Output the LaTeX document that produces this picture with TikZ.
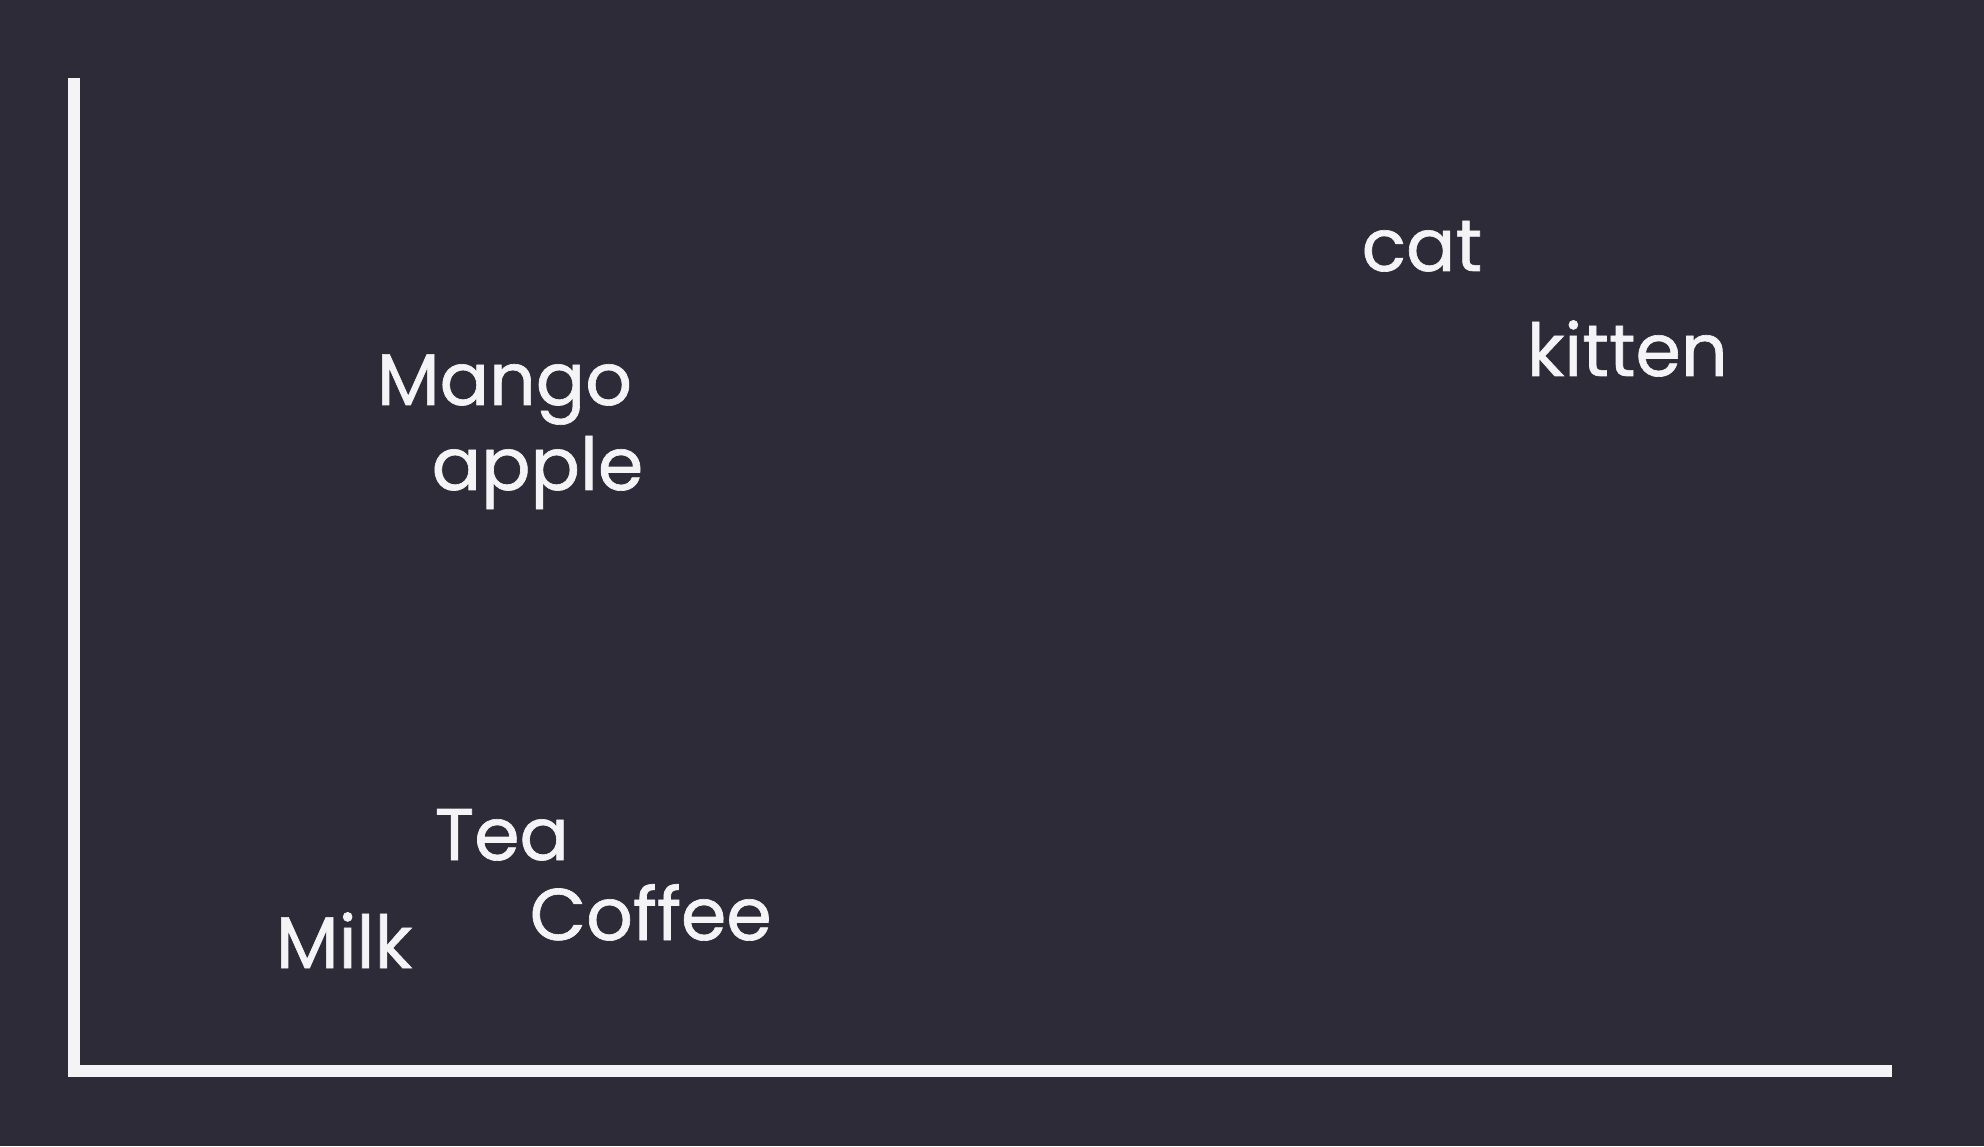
\documentclass[tikz,border=0pt]{standalone}
\usepackage{fontspec}
\setmainfont{Poppins}
\newfontfamily\wordfont{Poppins}[FakeBold=0.9]
\usepackage{tikz}
\usetikzlibrary{positioning}
\definecolor{cBg}{HTML}{2C2B37}
\definecolor{cInk}{HTML}{F4F4F7}
\tikzset{
  axis/.style = {draw=cInk, line width=3.4pt, line join=miter},
  word/.style = {text=cInk, font=\wordfont\fontsize{20.8}{24}\selectfont, inner sep=0pt, anchor=base west},
}

\begin{document}
\begin{tikzpicture}
  \fill[cBg] (0,0) rectangle (19.84,11.46);
  \useasboundingbox (0,0) rectangle (19.84,11.46);

  \coordinate (ytop)   at (0.74,10.68);
  \coordinate (origin) at (0.74,0.75);
  \coordinate (xend)   at (18.92,0.75);
  \draw[axis] (ytop) -- (origin) -- (xend);

  \node[word] (mango)  at (3.76,7.41)  {Mango};
  \node[word] (apple)  at (4.31,6.56)  {apple};
  \node[word] (cat)    at (13.61,8.75) {cat};
  \node[word] (kitten) at (15.26,7.70) {kitten};
  \node[word] (tea)    at (4.34,2.86)  {Tea};
  \node[word] (coffee) at (5.29,2.06)  {Coffee};
  \node[word] (milk)   at (2.75,1.78)  {Milk};
\end{tikzpicture}
\end{document}
